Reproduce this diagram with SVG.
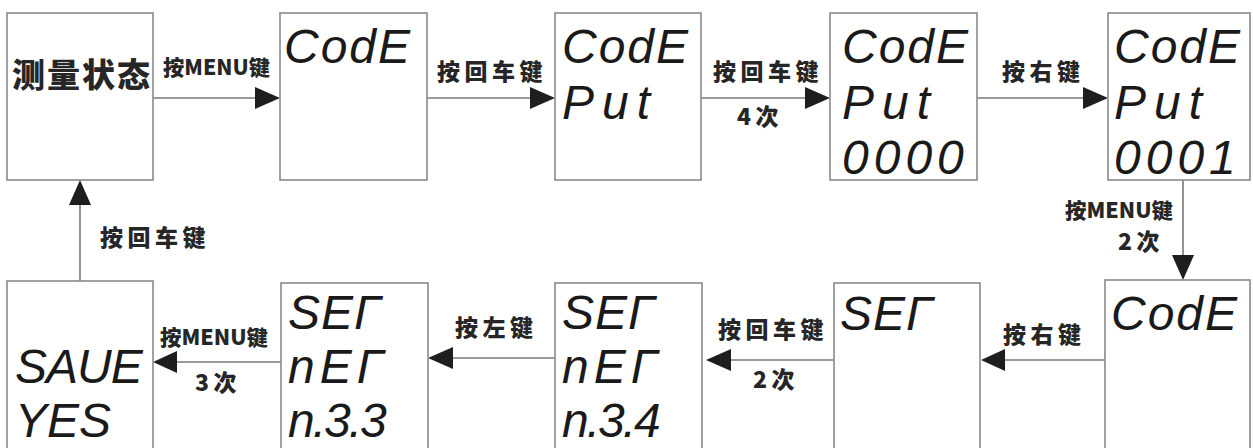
<svg xmlns="http://www.w3.org/2000/svg" width="1253" height="448" viewBox="0 0 1253 448">
<defs>
<style>
.box{fill:#fff;stroke:#8a8a8a;stroke-width:1.6}
.ln{stroke:#7a7a7a;stroke-width:1.6;fill:none}
.ah{fill:#1e1e1e}
.lbl{font-family:"Noto Sans CJK SC","Noto Sans",sans-serif;font-weight:900;font-size:23px;letter-spacing:4.5px;fill:#262626}
.lbm{font-family:"Noto Sans CJK SC","Noto Sans",sans-serif;font-weight:900;font-size:21px;fill:#262626}
.big{font-family:"Noto Sans CJK SC",sans-serif;font-weight:900;font-size:33px;letter-spacing:2px;fill:#262626}
.lcd{font-family:"Liberation Sans",Arial,sans-serif;font-style:italic;font-size:48px;fill:#1a1a1a}
.w-code{letter-spacing:2px}
.w-put{letter-spacing:8px}
.w-num{letter-spacing:5px}
.w-set{letter-spacing:1px}
.w-net{letter-spacing:5px}
.w-n3{letter-spacing:-2px}
.w-save{letter-spacing:-1px}
</style>
</defs>
<rect width="1253" height="448" fill="#fff"/>
<g id="connectors">
<line class="ln" x1="153" y1="98" x2="256" y2="98"/><polygon class="ah" points="255,87 280,98 255,109"/>
<line class="ln" x1="427" y1="98" x2="531" y2="98"/><polygon class="ah" points="530,87 555,98 530,109"/>
<line class="ln" x1="701" y1="98" x2="806" y2="98"/><polygon class="ah" points="805,87 830,98 805,109"/>
<line class="ln" x1="977" y1="98" x2="1084" y2="98"/><polygon class="ah" points="1083,87 1108,98 1083,109"/>
<line class="ln" x1="1183" y1="180" x2="1183" y2="256"/><polygon class="ah" points="1172,255 1194,255 1183,280"/>
<line class="ln" x1="1105" y1="360" x2="1004" y2="360"/><polygon class="ah" points="1005,349 981,360 1005,371"/>
<line class="ln" x1="834" y1="360" x2="730" y2="360"/><polygon class="ah" points="731,349 706,360 731,371"/>
<line class="ln" x1="555" y1="358" x2="452" y2="358"/><polygon class="ah" points="453,347 428,358 453,369"/>
<line class="ln" x1="281" y1="362" x2="176" y2="362"/><polygon class="ah" points="177,351 153,362 177,373"/>
<line class="ln" x1="80" y1="281" x2="80" y2="204"/><polygon class="ah" points="69,205 91,205 80,180"/>
<text class="lbm" x="163" y="75" textLength="107" lengthAdjust="spacingAndGlyphs">按MENU键</text>
<text class="lbl" x="437" y="80">按回车键</text>
<text class="lbl" x="713" y="80">按回车键</text>
<text class="lbl" x="737" y="125">4次</text>
<text class="lbl" x="1002" y="80">按右键</text>
<text class="lbm" x="1065" y="218" textLength="108" lengthAdjust="spacingAndGlyphs">按MENU键</text>
<text class="lbl" x="1118" y="250">2次</text>
<text class="lbl" x="1003" y="343">按右键</text>
<text class="lbl" x="718" y="338">按回车键</text>
<text class="lbl" x="753" y="388">2次</text>
<text class="lbl" x="455" y="336">按左键</text>
<text class="lbm" x="160" y="345" textLength="108" lengthAdjust="spacingAndGlyphs">按MENU键</text>
<text class="lbl" x="195" y="391">3次</text>
<text class="lbl" x="100" y="246">按回车键</text>
</g>
<g id="n1"><rect class="box" x="7" y="13" width="146" height="167"/><text class="big" x="12" y="87">测量状态</text></g>
<g id="n2"><rect class="box" x="280" y="13" width="147" height="167"/><text class="lcd w-code" x="284" y="63">CodE</text></g>
<g id="n3"><rect class="box" x="555" y="13" width="146" height="167"/><text class="lcd w-code" x="562" y="63">CodE</text><text class="lcd w-put" x="562" y="119">Put</text></g>
<g id="n4"><rect class="box" x="830" y="13" width="147" height="167"/><text class="lcd w-code" x="842" y="63">CodE</text><text class="lcd w-put" x="842" y="119">Put</text><text class="lcd w-num" x="842" y="174">0000</text></g>
<g id="n5"><rect class="box" x="1108" y="13" width="142" height="167"/><text class="lcd w-code" x="1114" y="63">CodE</text><text class="lcd w-put" x="1114" y="119">Put</text><text class="lcd w-num" x="1114" y="174">0001</text></g>
<g id="n10"><rect class="box" x="1105" y="280" width="145" height="172"/><text class="lcd w-code" x="1111" y="330">CodE</text></g>
<g id="n9"><rect class="box" x="834" y="283" width="146" height="170"/><text class="lcd w-set" x="840" y="330">SEΓ</text></g>
<g id="n8"><rect class="box" x="555" y="283" width="147" height="170"/><text class="lcd w-set" x="562" y="329">SEΓ</text><text class="lcd w-net" x="562" y="383">nEΓ</text><text class="lcd w-n3" x="562" y="437">n.3.4</text></g>
<g id="n7"><rect class="box" x="281" y="283" width="147" height="170"/><text class="lcd w-set" x="288" y="329">SEΓ</text><text class="lcd w-net" x="288" y="383">nEΓ</text><text class="lcd w-n3" x="288" y="437">n.3.3</text></g>
<g id="n6"><rect class="box" x="7" y="281" width="146" height="172"/><text class="lcd w-save" x="15" y="383">SAUE</text><text class="lcd" x="15" y="437">YES</text></g>
</svg>
